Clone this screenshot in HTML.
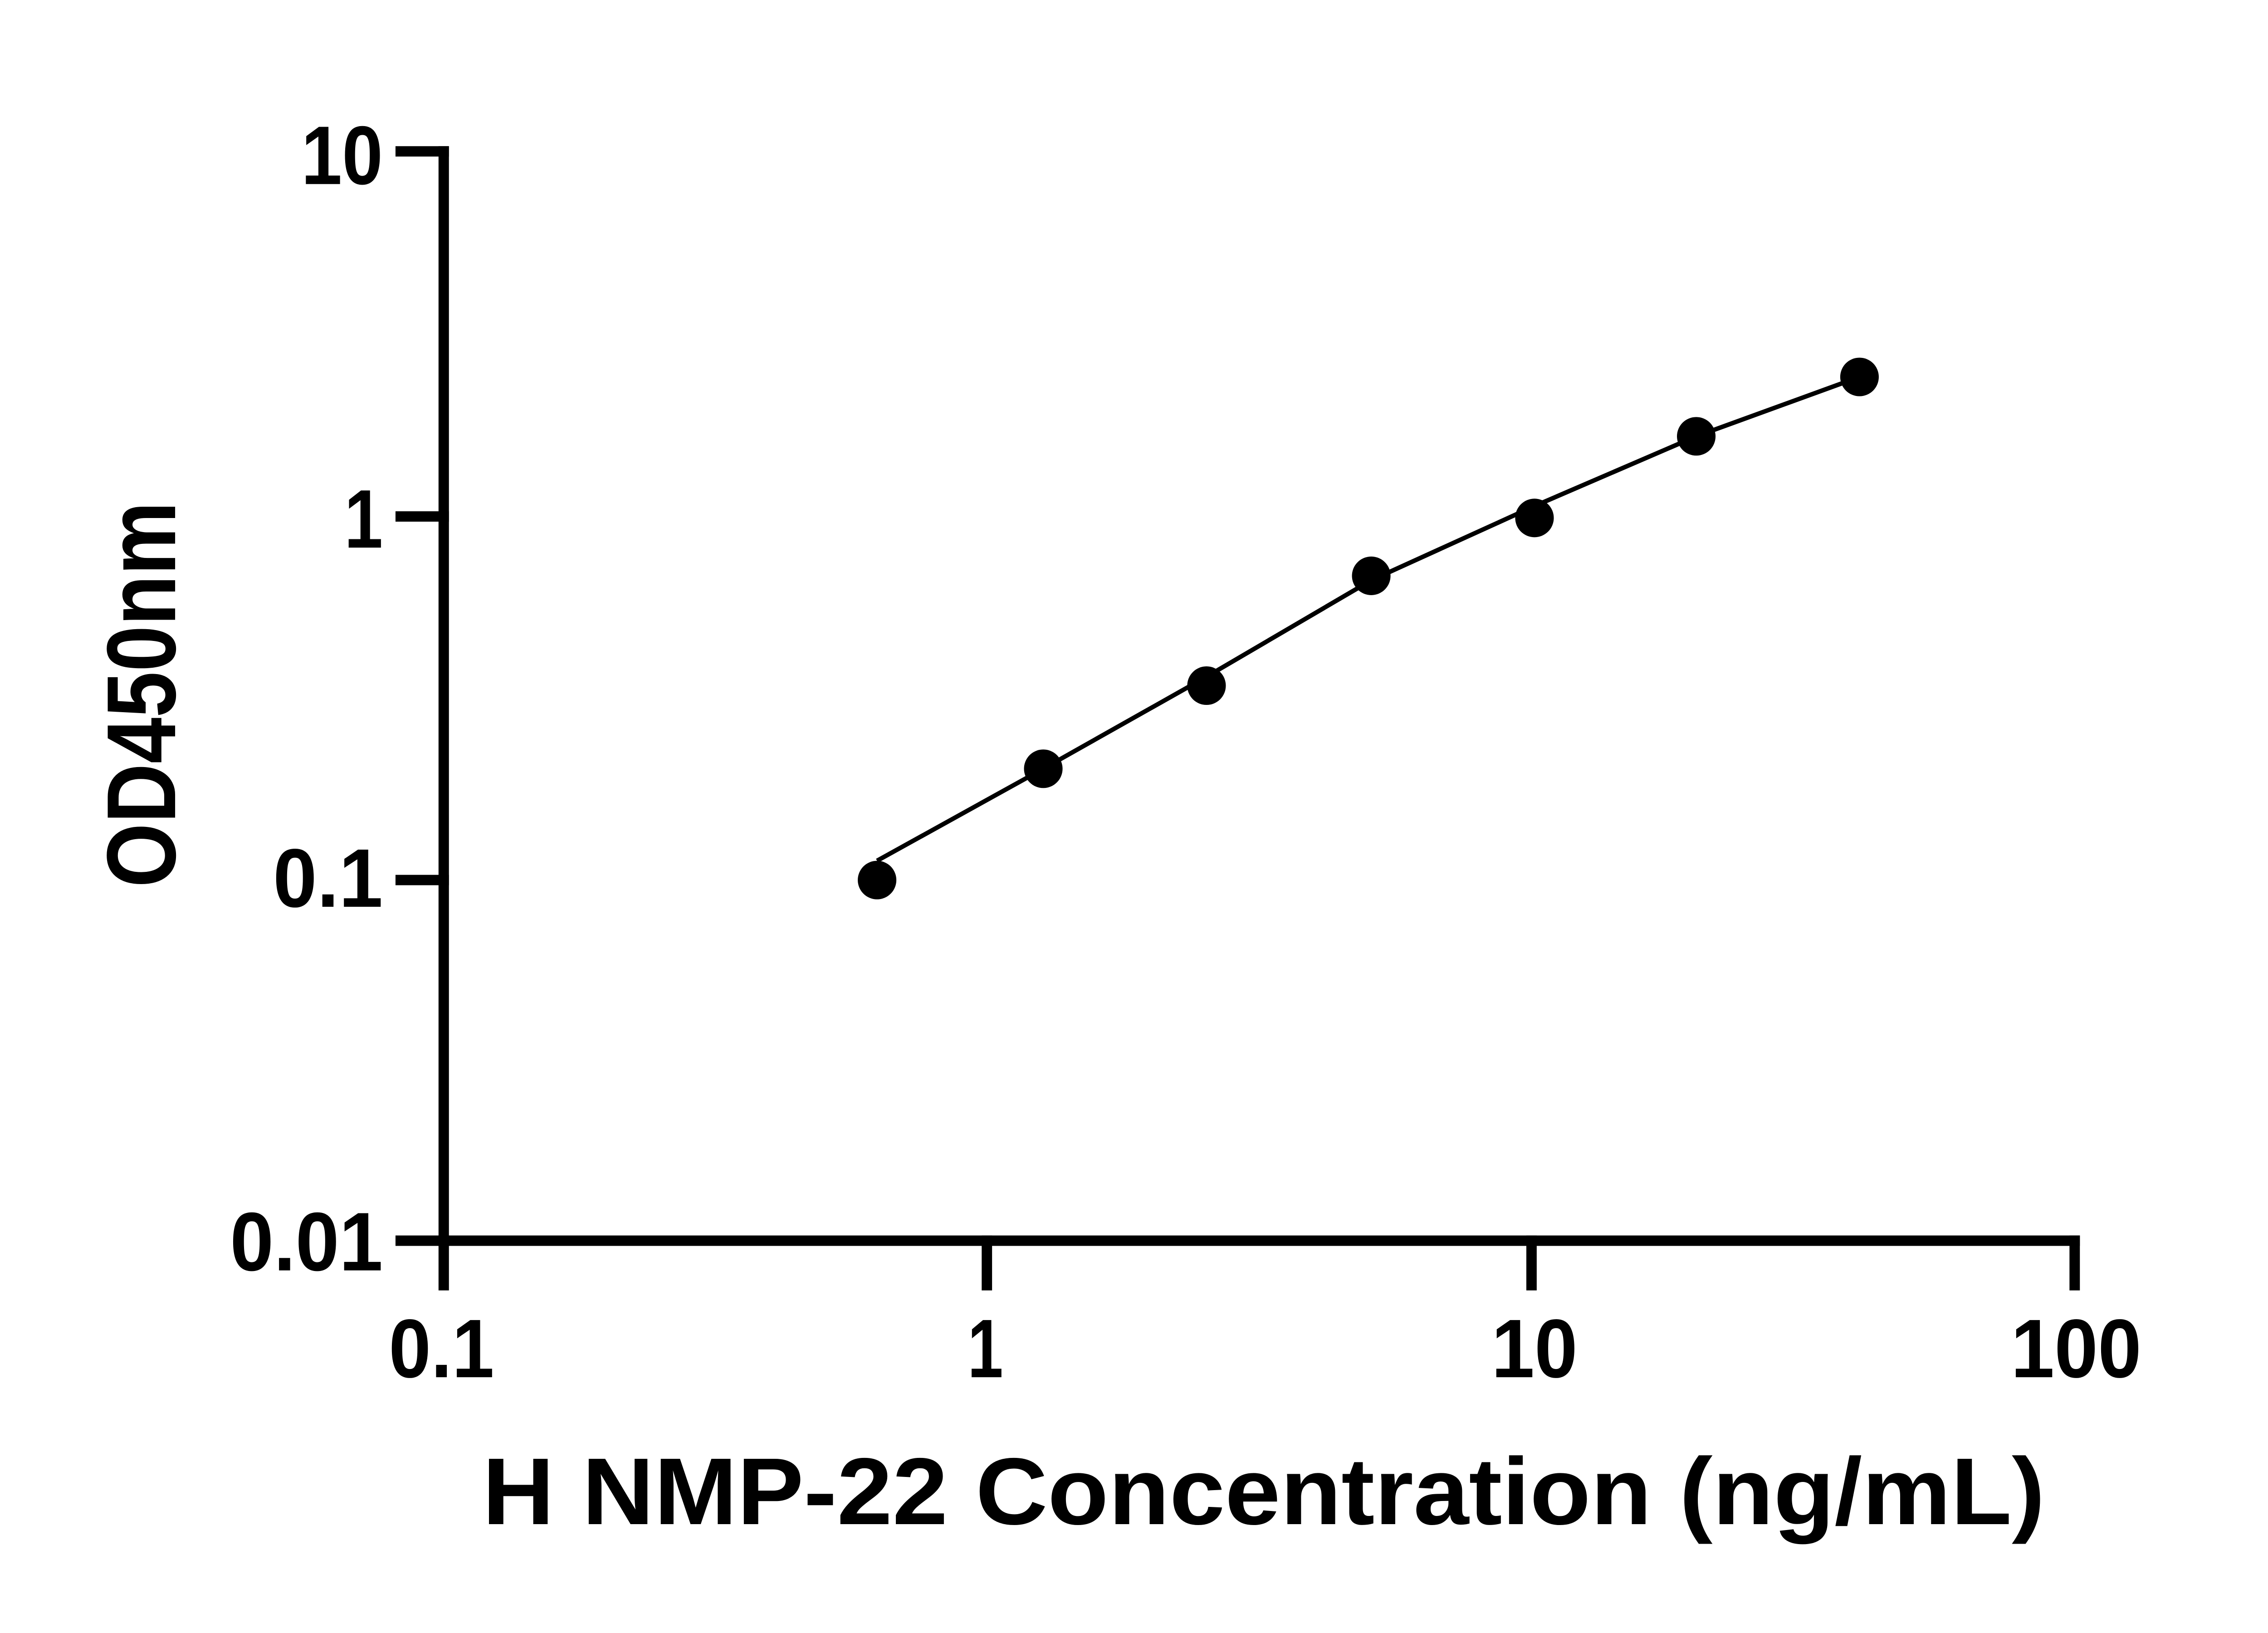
<!DOCTYPE html>
<html><head><meta charset="utf-8"><style>
html,body{margin:0;padding:0;background:#fff;}
svg{display:block;}
text{font-family:"Liberation Sans",sans-serif;font-weight:bold;fill:#000;}
</style></head><body>
<svg width="5130" height="3600" viewBox="0 0 1568 1100.35" preserveAspectRatio="none" xmlns="http://www.w3.org/2000/svg">
<rect width="1568" height="1100.35" fill="#fff"/>
<g stroke="#000" stroke-width="7" fill="none" stroke-linecap="square">
<line x1="299" y1="102" x2="299" y2="836"/>
<line x1="299" y1="836" x2="1398" y2="836"/>
<line x1="270" y1="102" x2="299" y2="102"/>
<line x1="270" y1="348" x2="299" y2="348"/>
<line x1="270" y1="593" x2="299" y2="593"/>
<line x1="270" y1="836" x2="299" y2="836"/>
<line x1="299" y1="836" x2="299" y2="866"/>
<line x1="665" y1="836" x2="665" y2="866"/>
<line x1="1032" y1="836" x2="1032" y2="866"/>
<line x1="1398" y1="836" x2="1398" y2="866"/>
</g>
<polyline points="591,580 703,518 813,456 924,391 1034,341 1143,294 1253,254" fill="none" stroke="#000" stroke-width="3"/>
<g fill="#000">
<circle cx="591" cy="593" r="13"/>
<circle cx="703" cy="518" r="13"/>
<circle cx="813" cy="462" r="13"/>
<circle cx="924" cy="388" r="13"/>
<circle cx="1034" cy="349" r="13"/>
<circle cx="1143" cy="294" r="13"/>
<circle cx="1253" cy="254" r="13"/>
</g>
<g font-size="56">
<text x="203" y="124" textLength="55" lengthAdjust="spacingAndGlyphs">10</text>
<text x="232" y="369" textLength="26" lengthAdjust="spacingAndGlyphs">1</text>
<text x="184" y="611" textLength="74" lengthAdjust="spacingAndGlyphs">0.1</text>
<text x="155" y="856" textLength="103" lengthAdjust="spacingAndGlyphs">0.01</text>
<text x="262" y="928" textLength="71" lengthAdjust="spacingAndGlyphs">0.1</text>
<text x="652" y="928" textLength="24" lengthAdjust="spacingAndGlyphs">1</text>
<text x="1005" y="928" textLength="58" lengthAdjust="spacingAndGlyphs">10</text>
<text x="1355" y="928" textLength="88" lengthAdjust="spacingAndGlyphs">100</text>
</g>
<text x="325" y="1027" font-size="64" textLength="1053" lengthAdjust="spacingAndGlyphs">H NMP-22 Concentration (ng/mL)</text>
<text transform="translate(118,598) rotate(-90)" font-size="66" textLength="260" lengthAdjust="spacingAndGlyphs">OD450nm</text>
</svg>
</body></html>
